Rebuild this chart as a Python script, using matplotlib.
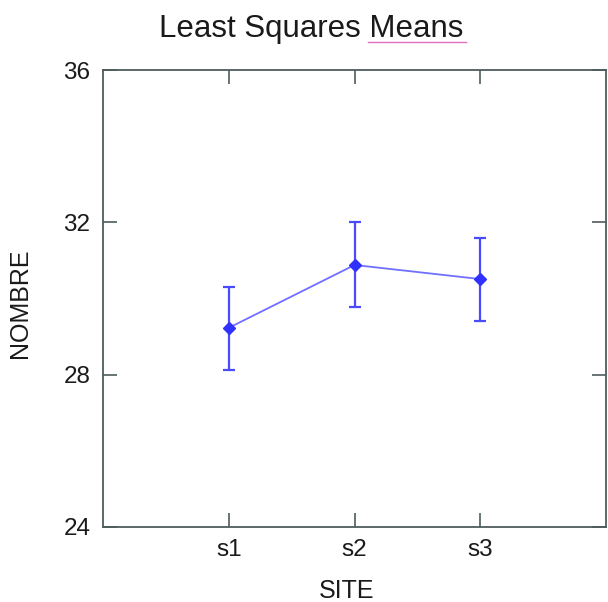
import matplotlib

matplotlib.use('agg')
import matplotlib.pyplot as plt

plt.rcParams['font.family'] = ['Liberation Sans', 'DejaVu Sans']

# data
sites = ['s1', 's2', 's3']
means = [29.23, 30.88, 30.51]
upper = [30.30, 32.00, 31.60]
lower = [28.12, 29.78, 29.40]
y_ticks = [24, 28, 32, 36]

x = list(range(1, len(sites) + 1))
err_lo = [m - l for m, l in zip(means, lower)]
err_hi = [u - m for m, u in zip(means, upper)]

fig = plt.figure(figsize=(6.08, 6.02), dpi=100)
ax = fig.add_axes([0.1694, 0.1246, 0.8275, 0.7591])

ax.plot(x, means, color='#7070ff', lw=1.3, zorder=2)
ax.errorbar(x, means, yerr=[err_lo, err_hi], fmt='D', color='#3030ff',
            ms=6, elinewidth=1.6, capsize=4.5, capthick=1.6, ecolor='#4a4aff',
            zorder=3)

ax.set_xlim(0, 4)
ax.set_ylim(24, 36)
ax.set_xticks(x)
ax.set_xticklabels(sites)
ax.set_yticks(y_ticks)

axis_col = '#4f5c5c'
for sp in ax.spines.values():
  sp.set_color(axis_col)
  sp.set_linewidth(1.3)
ax.tick_params(direction='in', length=10, width=1.2, color=axis_col,
               labelsize=17.5, top=True, right=True, labelcolor='#1a1a1a')
ax.tick_params(axis='y', pad=9)
ax.tick_params(axis='x', pad=9)

ax.set_xlabel('SITE', fontsize=18, va='center', color='#1a1a1a')
ax.xaxis.set_label_coords(0.485, -0.140)
ax.set_ylabel('NOMBRE', fontsize=18, va='center', color='#1a1a1a')
ax.yaxis.set_label_coords(-0.165, 0.49)

fig.text(0.512, 1 - 37 / 602, 'Least Squares Means', fontsize=22.5,
         ha='center', va='baseline', color='#1a1a1a')
# the pink spell-check underline under "Means"
fig.add_artist(plt.Line2D([368 / 608, 466 / 608], [1 - 42 / 602, 1 - 42 / 602],
                          color='#e070c0', lw=1.0, transform=fig.transFigure))

fig.savefig('out.png', dpi=100)
